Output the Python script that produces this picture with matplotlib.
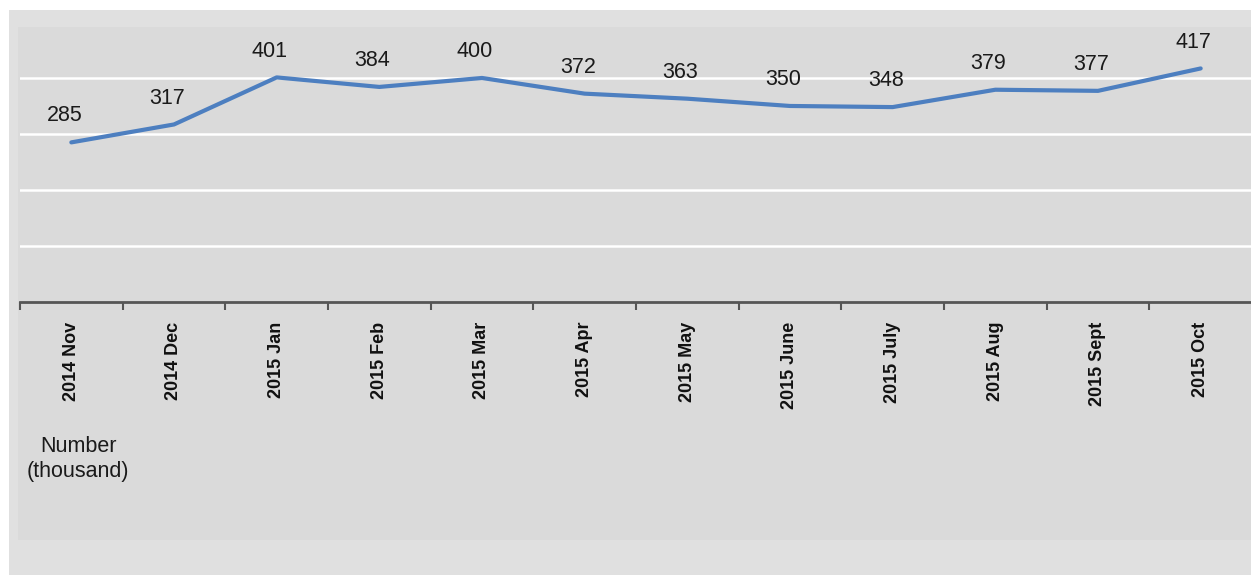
import matplotlib.pyplot as plt
from matplotlib.patches import Rectangle

months = ['2014 Nov', '2014 Dec', '2015 Jan', '2015 Feb', '2015 Mar', '2015 Apr',
          '2015 May', '2015 June', '2015 July', '2015 Aug', '2015 Sept', '2015 Oct']
values = [285, 317, 401, 384, 400, 372, 363, 350, 348, 379, 377, 417]

plt.rcParams['font.family'] = ['Liberation Sans', 'DejaVu Sans']

fig = plt.figure(figsize=(12.51, 5.75), dpi=100)
fig.patch.set_facecolor('white')

# grey panel behind everything
fig.patches.append(Rectangle((9 / 1251, 0), 1, 1 - 10 / 575, transform=fig.transFigure,
                             facecolor='#e0e0e0', edgecolor='none', zorder=-10))
fig.patches.append(Rectangle((18 / 1251, 35 / 575), 1, 1 - 62 / 575, transform=fig.transFigure,
                             facecolor='#dadada', edgecolor='none', zorder=-9))

ax = fig.add_axes([20 / 1251, 1 - 302 / 575, 1232 / 1251, (302 - 27) / 575])
ax.set_facecolor('none')

x = range(len(values))
ax.plot(x, values, color='#4d7fc0', linewidth=3, solid_joinstyle='round',
        solid_capstyle='round', zorder=3)

for xi, v in zip(x, values):
    ax.annotate(str(v), (xi, v), xytext=(-5, 19), textcoords='offset points',
                ha='center', va='center', fontsize=15.5, color='#1a1a1a')

ax.set_xlim(-0.5, len(values) - 0.5)
ax.set_ylim(0, 491)
ax.set_yticks([100, 200, 300, 400])
ax.yaxis.grid(True, color='white', linewidth=1.8)
ax.tick_params(axis='y', left=False, labelleft=False)

ax.set_xticks(list(x))
ax.set_xticklabels(months, rotation=90, fontsize=13, fontweight='bold', color='#111111')
ax.set_xticks([i - 0.5 for i in range(len(values) + 1)], minor=True)
ax.tick_params(axis='x', which='major', length=0, pad=14)
ax.tick_params(axis='x', which='minor', length=6, width=1.5, color='#555555')

for side in ['top', 'right', 'left']:
    ax.spines[side].set_visible(False)
ax.spines['bottom'].set_color('#555555')
ax.spines['bottom'].set_linewidth(2)
ax.set_axisbelow(True)

fig.text(78 / 1251, 1 - 459 / 575, 'Number\n(thousand)', ha='center', va='center',
         fontsize=15.5, color='#1a1a1a', linespacing=1.2)

plt.savefig('out.png', dpi=100)
plt.close()
